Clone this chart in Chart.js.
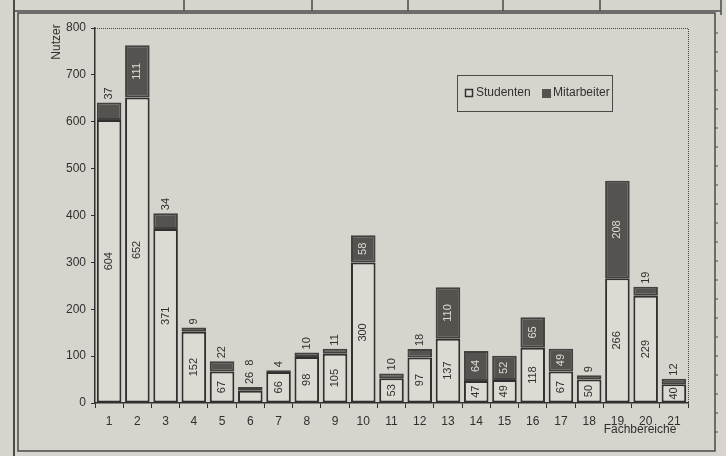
<!DOCTYPE html>
<html>
<head>
<meta charset="utf-8">
<script src="https://cdn.jsdelivr.net/npm/chart.js@4/dist/chart.umd.min.js"></script>
<style>
  html, body { margin: 0; padding: 0; background: #d6d4cc; }
  #chart { display: block; }
</style>
</head>
<body>
<canvas id="chart" width="726" height="456"></canvas>
<script>
// Nutzer je Fachbereich
const categories  = ['1','2','3','4','5','6','7','8','9','10','11','12','13','14','15','16','17','18','19','20','21'];
const studenten   = [604, 652, 371, 152, 67, 26, 66, 98, 105, 300, 53, 97, 137, 47, 49, 118, 67, 50, 266, 229, 40];
const mitarbeiter = [37, 111, 34, 9, 22, 8, 4, 10, 11, 58, 10, 18, 110, 64, 52, 65, 49, 9, 208, 19, 12];
const yTicks      = [0, 100, 200, 300, 400, 500, 600, 700, 800];

const BG        = '#d6d4cc';
const INK       = '#303030';
const BAR_DARK  = '#555350';
const BAR_LIGHT = '#dcdad3';
const FONT      = '"Liberation Sans", Arial, sans-serif';

// put a rotated (bottom-to-top) label at x,y
function vText(ctx, txt, x, y, align, color) {
    ctx.save();
    ctx.translate(x, y);
    ctx.rotate(-Math.PI / 2);
    ctx.textAlign = align;
    ctx.fillStyle = color;
    ctx.fillText(txt, 0, 0);
    ctx.restore();
}

// paper background and the newspaper frame lines
const framePlugin = {
    id: 'frame',
    beforeDraw(chart) {
        const ctx = chart.ctx;
        ctx.save();
        ctx.fillStyle = BG;
        ctx.fillRect(0, 0, chart.width, chart.height);
        ctx.strokeStyle = '#4a4a4a';

        ctx.lineWidth = 2;
        ctx.beginPath(); ctx.moveTo(14, 0); ctx.lineTo(14, 456); ctx.stroke();

        ctx.lineWidth = 1.5;
        ctx.beginPath(); ctx.moveTo(14, 11); ctx.lineTo(721, 11); ctx.stroke();
        [184, 312, 408, 503, 600].forEach(x => {
            ctx.beginPath(); ctx.moveTo(x, 0); ctx.lineTo(x, 11); ctx.stroke();
        });
        ctx.beginPath(); ctx.moveTo(721, 0); ctx.lineTo(721, 15); ctx.stroke();

        ctx.strokeRect(18, 13, 697, 438);

        // little ruler ticks on the right edge
        ctx.lineWidth = 1;
        for (let y = 33; y < 448; y += 19) {
            ctx.beginPath(); ctx.moveTo(715, y); ctx.lineTo(718, y); ctx.stroke();
        }
        ctx.restore();
    },
    afterDraw(chart) {
        const ctx = chart.ctx;
        const a = chart.chartArea;
        ctx.save();

        // dotted top and right edges of the plot area
        ctx.strokeStyle = '#444';
        ctx.lineWidth = 1;
        ctx.setLineDash([1, 1]);
        ctx.beginPath();
        ctx.moveTo(a.left, a.top + 0.5);
        ctx.lineTo(a.right + 0.5, a.top + 0.5);
        ctx.lineTo(a.right + 0.5, a.bottom);
        ctx.stroke();
        ctx.setLineDash([]);

        // axis titles
        ctx.font = '12px ' + FONT;
        ctx.textBaseline = 'middle';
        vText(ctx, 'Nutzer', 57, 42, 'center', INK);
        ctx.textAlign = 'center';
        ctx.fillStyle = INK;
        ctx.fillText('Fachbereiche', 640, 430);

        // legend box
        ctx.strokeStyle = '#4a4a4a';
        ctx.lineWidth = 1;
        ctx.strokeRect(457.5, 75.5, 155, 36);
        ctx.fillStyle = BAR_LIGHT;
        ctx.fillRect(465, 89, 8, 8);
        ctx.lineWidth = 1.5;
        ctx.strokeStyle = INK;
        ctx.strokeRect(465.5, 89.5, 7, 7);
        ctx.fillStyle = BAR_DARK;
        ctx.fillRect(542, 89, 9, 9);
        ctx.fillStyle = INK;
        ctx.textAlign = 'left';
        ctx.fillText('Studenten', 476, 93);
        ctx.fillText('Mitarbeiter', 553, 93);
        ctx.restore();
    }
};

// value labels: inside the segment if it fits, otherwise stacked above the bar
const labelPlugin = {
    id: 'valueLabels',
    afterDatasetsDraw(chart) {
        const ctx = chart.ctx;
        const sMeta = chart.getDatasetMeta(0).data;
        const mMeta = chart.getDatasetMeta(1).data;
        ctx.save();
        ctx.font = '11px ' + FONT;
        ctx.textBaseline = 'middle';
        categories.forEach((c, i) => {
            let top = mMeta[i].y - 3;
            [[studenten[i], sMeta[i], INK], [mitarbeiter[i], mMeta[i], '#dedcd6']].forEach(([v, el, inColor]) => {
                const t = String(v);
                const w = ctx.measureText(t).width;
                const h = el.base - el.y;
                if (h >= w + 6) {
                    vText(ctx, t, el.x, (el.y + el.base) / 2, 'center', inColor);
                } else {
                    vText(ctx, t, el.x, top, 'left', INK);
                    top -= w + 6;
                }
            });
        });
        ctx.restore();
    }
};

new Chart(document.getElementById('chart'), {
    type: 'bar',
    data: {
        labels: categories,
        datasets: [
            { label: 'Studenten', data: studenten, backgroundColor: BAR_LIGHT, borderColor: INK, borderWidth: 2, borderSkipped: false },
            { label: 'Mitarbeiter', data: mitarbeiter, backgroundColor: BAR_DARK, borderColor: '#424140', borderWidth: 2, borderSkipped: false },
        ],
    },
    options: {
        responsive: false,
        animation: false,
        events: [],
        layout: { padding: { left: 30, right: 38, top: 28, bottom: 13 } },
        datasets: { bar: { categoryPercentage: 1, barPercentage: 0.87 } },
        plugins: { legend: { display: false }, tooltip: { enabled: false } },
        scales: {
            x: {
                stacked: true,
                afterFit: s => { s.height = 40; },
                border: { display: true, color: INK, width: 1.5 },
                grid: { offset: true, drawOnChartArea: false, drawTicks: true, tickLength: 5, color: INK, lineWidth: 1 },
                ticks: { color: INK, font: { family: FONT, size: 12 }, padding: 6, maxRotation: 0, autoSkip: false },
            },
            y: {
                stacked: true,
                min: 0,
                max: 800,
                afterFit: s => { s.width = 65; },
                afterBuildTicks: s => { s.ticks = yTicks.map(v => ({ value: v })); },
                border: { display: true, color: INK, width: 1.5 },
                grid: { drawOnChartArea: false, drawTicks: true, tickLength: 4, color: INK },
                ticks: { color: INK, font: { family: FONT, size: 12 }, padding: 5 },
            },
        },
    },
    plugins: [framePlugin, labelPlugin],
});
</script>
</body>
</html>
